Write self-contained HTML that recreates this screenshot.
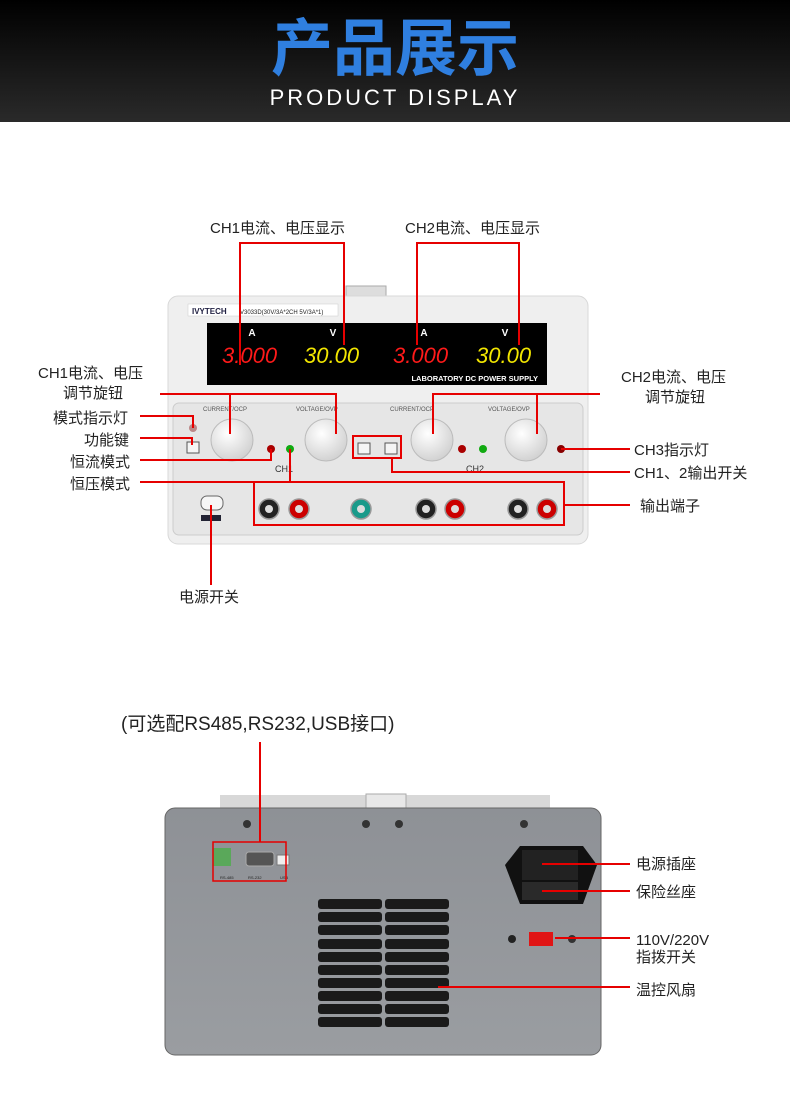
<!DOCTYPE html>
<html><head><meta charset="utf-8"><style>
html,body{margin:0;padding:0;background:#fff}
svg{display:block}
text{font-family:"Liberation Sans","Noto Sans CJK SC",sans-serif}
</style></head><body>
<svg width="790" height="1107" viewBox="0 0 790 1107" xmlns="http://www.w3.org/2000/svg">
<defs>
<linearGradient id="hd" x1="0" y1="0" x2="0" y2="1"><stop offset="0" stop-color="#000"/><stop offset="1" stop-color="#2a2a2a"/></linearGradient>
<radialGradient id="knob" cx="0.4" cy="0.35" r="0.7"><stop offset="0" stop-color="#fff"/><stop offset="1" stop-color="#cfcfcf"/></radialGradient>
<linearGradient id="back" x1="0" y1="0" x2="0" y2="1"><stop offset="0" stop-color="#8e9196"/><stop offset="1" stop-color="#9a9da1"/></linearGradient>
</defs>
<rect x="0" y="0" width="790" height="122" fill="url(#hd)"/>
<text x="395" y="70" text-anchor="middle" font-size="62" font-weight="bold" fill="#2f7fe0" style="font-family:'Noto Sans CJK SC',sans-serif">产品展示</text>
<text x="395" y="105" text-anchor="middle" font-size="22" fill="#fff" letter-spacing="3">PRODUCT DISPLAY</text>

<!-- FRONT UNIT -->
<rect x="346" y="286" width="40" height="12" fill="#ddd" stroke="#aaa"/>
<rect x="168" y="296" width="420" height="248" rx="10" fill="#efefef" stroke="#d8d8d8"/>
<rect x="188" y="304" width="150" height="12" fill="#fff" stroke="#ccc" stroke-width="0.5"/>
<text x="192" y="314" font-size="8" font-weight="bold" fill="#224">IVYTECH</text>
<text x="240" y="314" font-size="6" fill="#222">V3033D(30V/3A*2CH 5V/3A*1)</text>
<rect x="207" y="323" width="340" height="62" fill="#000"/>
<g font-size="10" font-weight="bold" fill="#fff" text-anchor="middle"><text x="252" y="336">A</text><text x="333" y="336">V</text><text x="424" y="336">A</text><text x="505" y="336">V</text></g>
<g font-size="22" style="font-family:'Liberation Mono',monospace" font-style="italic">
<text x="222" y="363" fill="#ff1a1a">3.000</text><text x="304" y="363" fill="#f2e600">30.00</text>
<text x="393" y="363" fill="#ff1a1a">3.000</text><text x="476" y="363" fill="#f2e600">30.00</text></g>
<text x="538" y="381" text-anchor="end" font-size="7.5" font-weight="bold" fill="#fff">LABORATORY DC POWER SUPPLY</text>
<rect x="173" y="403" width="410" height="132" rx="6" fill="#e6e6e6" stroke="#ccc"/>
<g font-size="6" fill="#555"><text x="203" y="411">CURRENT/OCP</text><text x="296" y="411">VOLTAGE/OVP</text><text x="390" y="411">CURRENT/OCP</text><text x="488" y="411">VOLTAGE/OVP</text></g>
<circle cx="232" cy="440" r="21" fill="url(#knob)" stroke="#bbb"/>
<circle cx="326" cy="440" r="21" fill="url(#knob)" stroke="#bbb"/>
<circle cx="432" cy="440" r="21" fill="url(#knob)" stroke="#bbb"/>
<circle cx="526" cy="440" r="21" fill="url(#knob)" stroke="#bbb"/>
<circle cx="193" cy="428" r="4" fill="#b88"/>
<rect x="187" y="442" width="12" height="11" fill="#f5f5f5" stroke="#555"/>
<circle cx="271" cy="449" r="4" fill="#a00"/><circle cx="290" cy="449" r="4" fill="#1a1"/>
<circle cx="462" cy="449" r="4" fill="#a00"/><circle cx="483" cy="449" r="4" fill="#1a1"/>
<circle cx="561" cy="449" r="4" fill="#800"/>
<rect x="358" y="443" width="12" height="11" fill="#f5f5f5" stroke="#555"/>
<rect x="385" y="443" width="12" height="11" fill="#f5f5f5" stroke="#555"/>
<text x="275" y="472" font-size="9" fill="#333">CH1</text><text x="466" y="472" font-size="9" fill="#333">CH2</text>
<rect x="201" y="496" width="22" height="14" rx="6" fill="#f6f6f6" stroke="#666"/>
<rect x="201" y="515" width="20" height="6" fill="#223"/>
<g stroke="#999" stroke-width="1.5">
<circle cx="269" cy="509" r="10" fill="#222"/><circle cx="299" cy="509" r="10" fill="#c00"/>
<circle cx="361" cy="509" r="10" fill="#1a9a8a"/>
<circle cx="426" cy="509" r="10" fill="#222"/><circle cx="455" cy="509" r="10" fill="#c00"/>
<circle cx="518" cy="509" r="10" fill="#222"/><circle cx="547" cy="509" r="10" fill="#c00"/></g>
<g fill="#ddd"><circle cx="269" cy="509" r="4"/><circle cx="299" cy="509" r="4"/><circle cx="361" cy="509" r="4"/><circle cx="426" cy="509" r="4"/><circle cx="455" cy="509" r="4"/><circle cx="518" cy="509" r="4"/><circle cx="547" cy="509" r="4"/></g>

<g stroke="#e60000" stroke-width="2" fill="none">
<polyline points="240,365 240,243 344,243 344,345"/>
<polyline points="417,345 417,243 519,243 519,345"/>
<polyline points="160,394 230,394 230,434"/>
<polyline points="230,394 336,394 336,434"/>
<polyline points="600,394 537,394 537,434"/>
<polyline points="537,394 433,394 433,434"/>
<polyline points="140,416 193,416 193,428"/>
<polyline points="140,438 192,438 192,445"/>
<polyline points="140,460 271,460 271,449"/>
<polyline points="140,482 290,482 290,449"/>
<rect x="353" y="436" width="48" height="22"/>
<polyline points="392,458 392,472 630,472"/>
<line x1="561" y1="449" x2="630" y2="449"/>
<rect x="254" y="482" width="310" height="43"/>
<line x1="564" y1="505" x2="630" y2="505"/>
<line x1="211" y1="505" x2="211" y2="585"/>
</g>
<g font-size="15" fill="#222">
<text x="210" y="233">CH1电流、电压显示</text>
<text x="405" y="233">CH2电流、电压显示</text>
<text x="38" y="378">CH1电流、电压</text><text x="63" y="398">调节旋钮</text>
<text x="621" y="382">CH2电流、电压</text><text x="645" y="402">调节旋钮</text>
<text x="53" y="423">模式指示灯</text>
<text x="84" y="445">功能键</text>
<text x="70" y="467">恒流模式</text>
<text x="70" y="489">恒压模式</text>
<text x="634" y="455">CH3指示灯</text>
<text x="634" y="478">CH1、2输出开关</text>
<text x="640" y="511">输出端子</text>
<text x="179" y="602">电源开关</text>
<text x="121" y="730" font-size="19">(可选配RS485,RS232,USB接口)</text>
</g>

<!-- BACK UNIT -->
<rect x="220" y="795" width="330" height="16" fill="#d8d8d8"/>
<rect x="366" y="794" width="40" height="14" fill="#e8e8e8" stroke="#aaa"/>
<rect x="165" y="808" width="436" height="247" rx="10" fill="url(#back)" stroke="#666"/>
<g fill="#333"><circle cx="247" cy="824" r="4"/><circle cx="366" cy="824" r="4"/><circle cx="399" cy="824" r="4"/><circle cx="524" cy="824" r="4"/></g>
<rect x="213" y="848" width="18" height="18" fill="#5aa85a"/>
<rect x="246" y="852" width="28" height="14" rx="3" fill="#555" stroke="#aaa"/>
<rect x="277" y="855" width="12" height="10" fill="#eee" stroke="#777"/>
<g font-size="4" fill="#222"><text x="220" y="879">RS-485</text><text x="248" y="879">RS-232</text><text x="280" y="879">USB</text></g>
<polygon points="505,865 520,846 583,846 597,865 583,904 520,904" fill="#111"/>
<rect x="522" y="850" width="56" height="30" fill="#222"/>
<rect x="522" y="882" width="56" height="18" fill="#2a2a2a"/>
<rect x="529" y="932" width="24" height="14" fill="#e01515"/>
<circle cx="512" cy="939" r="4" fill="#222"/><circle cx="572" cy="939" r="4" fill="#333"/>
<g fill="#1a1a1a">
<rect x="318" y="899" width="64" height="10" rx="3"/><rect x="385" y="899" width="64" height="10" rx="3"/>
<rect x="318" y="912" width="64" height="10" rx="3"/><rect x="385" y="912" width="64" height="10" rx="3"/>
<rect x="318" y="925" width="64" height="10" rx="3"/><rect x="385" y="925" width="64" height="10" rx="3"/>
<rect x="318" y="939" width="64" height="10" rx="3"/><rect x="385" y="939" width="64" height="10" rx="3"/>
<rect x="318" y="952" width="64" height="10" rx="3"/><rect x="385" y="952" width="64" height="10" rx="3"/>
<rect x="318" y="965" width="64" height="10" rx="3"/><rect x="385" y="965" width="64" height="10" rx="3"/>
<rect x="318" y="978" width="64" height="10" rx="3"/><rect x="385" y="978" width="64" height="10" rx="3"/>
<rect x="318" y="991" width="64" height="10" rx="3"/><rect x="385" y="991" width="64" height="10" rx="3"/>
<rect x="318" y="1004" width="64" height="10" rx="3"/><rect x="385" y="1004" width="64" height="10" rx="3"/>
<rect x="318" y="1017" width="64" height="10" rx="3"/><rect x="385" y="1017" width="64" height="10" rx="3"/>
</g>
<g stroke="#e60000" stroke-width="2" fill="none">
<rect x="213" y="842" width="73" height="39" stroke-width="1.5"/>
<polyline points="260,842 260,742"/>
<line x1="542" y1="864" x2="630" y2="864"/>
<line x1="542" y1="891" x2="630" y2="891"/>
<line x1="555" y1="938" x2="630" y2="938"/>
<line x1="438" y1="987" x2="630" y2="987"/>
</g>
<g font-size="15" fill="#222">
<text x="636" y="869">电源插座</text>
<text x="636" y="897">保险丝座</text>
<text x="636" y="945">110V/220V</text><text x="636" y="962">指拨开关</text>
<text x="636" y="995">温控风扇</text>
</g>
</svg>
</body></html>
